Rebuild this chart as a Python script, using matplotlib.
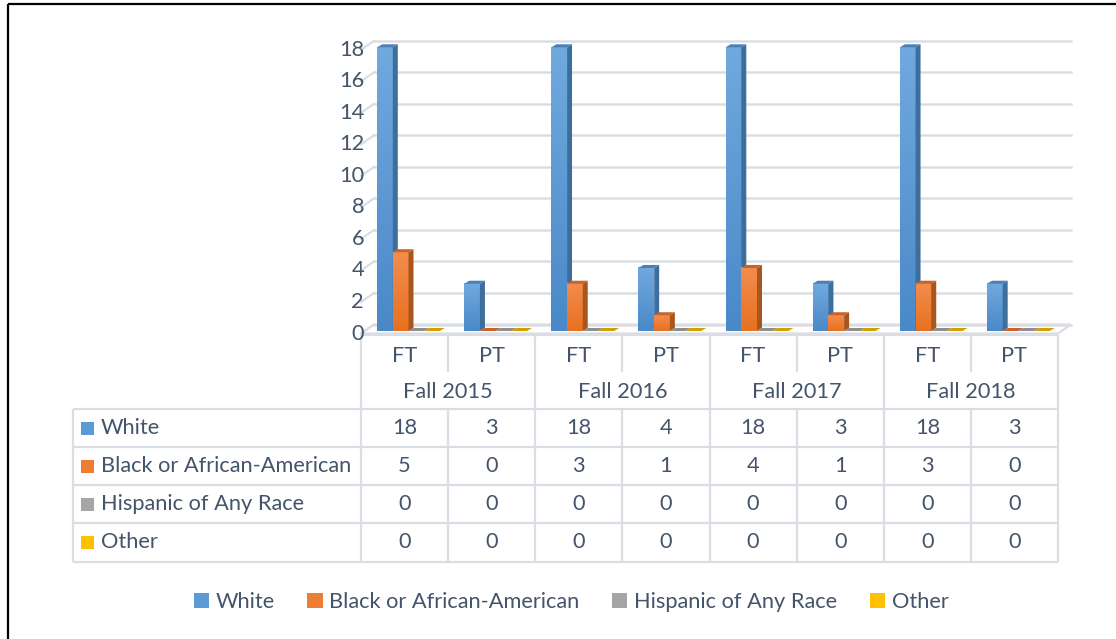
import matplotlib
matplotlib.use("Agg")
import matplotlib.pyplot as plt
import numpy as np
from matplotlib.patches import Polygon, Rectangle, Patch
from matplotlib.colors import LinearSegmentedColormap

# ---------------- data ----------------
years = ["Fall 2015", "Fall 2016", "Fall 2017", "Fall 2018"]
status = ["FT", "PT", "FT", "PT", "FT", "PT", "FT", "PT"]
series_names = ["White", "Black or African-American", "Hispanic of Any Race", "Other"]
white = [18, 3, 18, 4, 18, 3, 18, 3]
black = [5, 0, 3, 1, 4, 1, 3, 0]
hispanic = [0, 0, 0, 0, 0, 0, 0, 0]
other = [0, 0, 0, 0, 0, 0, 0, 0]
yticks = [0, 2, 4, 6, 8, 10, 12, 14, 16, 18]

series = [white, black, hispanic, other]
front_top = ["#70A9DE", "#F28C4E", "#B2B2B2", "#FFCB2E"]
front_bot = ["#4A89C8", "#E8711F", "#999999", "#F0B400"]
side_col = ["#3E6E9C", "#A9561D", "#777777", "#B88A00"]
top_col = ["#4B7FB5", "#C8642A", "#8E8E8E", "#D4A000"]
key_col = ["#5B9BD5", "#ED7D31", "#A5A5A5", "#FFC000"]

TXT = "#44546A"
GRID = "#DADEE4"
FONT = "Lato"
FS = 15.7

W, H = 1116, 639
fig = plt.figure(figsize=(W / 100, H / 100), dpi=100)
plt.rcParams["font.family"] = [FONT, "DejaVu Sans"]

# ---------------- main 3D-like chart ----------------
L, R = 361, 1058
Y0, Y18 = 331, 47.3
ax = fig.add_axes([L / W, 1 - Y0 / H, (R - L) / W, (Y0 - Y18) / H])
ax.set_xlim(0, 8)
ax.set_ylim(0, 18)
ax.axis("off")
pxx = 8 / (R - L)
pxy = 18 / (Y0 - Y18)

bdx, bdy = 13 * pxx, 6.5 * pxy      # back wall offset
fdy = -2.5 * pxy                      # front plane offset
ddx, ddy = 5 * pxx, 3 * pxy           # bar depth

# floor
floor = Polygon([(0, fdy), (8, fdy), (8 + bdx, bdy), (bdx, bdy)], closed=True,
                facecolor="white", edgecolor=GRID, lw=1.6, clip_on=False, zorder=1)
ax.add_patch(floor)
# back wall gridlines + side wall lines
for v in yticks:
    ax.plot([bdx, 8 + bdx], [v + bdy, v + bdy], color=GRID, lw=1.8, clip_on=False, zorder=1)
    ax.plot([0, bdx], [v + fdy, v + bdy], color=GRID, lw=1.6, clip_on=False, zorder=1)
    ax.text(3 * pxx, v + fdy, str(v), ha="right", va="center", fontsize=FS, color=TXT)

bw = 0.18
off = 0.185
x = np.arange(len(status))
for i, vals in enumerate(series):
    cmap = LinearSegmentedColormap.from_list("g%d" % i, [front_bot[i], front_top[i]])
    bars = ax.bar(x + off + i * bw, vals, width=bw, align="edge", color=key_col[i],
                  lw=0, zorder=3 + i, clip_on=False)
    for b, v in zip(bars, vals):
        x0 = b.get_x()
        x1 = x0 + b.get_width()
        h = b.get_height()
        if h > 0:
            grad = np.linspace(0, 1, 64).reshape(-1, 1)
            ax.imshow(grad, cmap=cmap, origin="lower", extent=(x0, x1, 0, h),
                      aspect="auto", zorder=3 + i, clip_on=False, interpolation="bilinear")
            ax.add_patch(Polygon([(x1, 0), (x1, h), (x1 + ddx, h + ddy), (x1 + ddx, ddy)],
                                 closed=True, facecolor=side_col[i], lw=0, zorder=3 + i,
                                 clip_on=False))
        ax.add_patch(Polygon([(x0, h), (x1, h), (x1 + ddx, h + ddy), (x0 + ddx, h + ddy)],
                             closed=True, facecolor=top_col[i], lw=0, zorder=3 + i,
                             clip_on=False))
ax.set_xlim(0, 8)
ax.set_ylim(0, 18)

# ---------------- data table ----------------
tax = fig.add_axes([0, 0, 1, 1])
tax.set_xlim(0, W)
tax.set_ylim(H, 0)
tax.axis("off")
tax.set_zorder(-1)
cw = (R - L) / 8
colx = [L + k * cw for k in range(9)]
TL = 73
ytop, ysub, yr = 335, 372, [409, 447, 485, 523, 562]
lk = dict(color=GRID, lw=1.6, solid_capstyle="butt")
tax.plot([L, R], [ytop, ytop], **lk)
for k in range(9):
    if k % 2 == 0:
        tax.plot([colx[k], colx[k]], [ytop, yr[-1]], **lk)
    else:
        tax.plot([colx[k], colx[k]], [ytop, ysub], **lk)
        tax.plot([colx[k], colx[k]], [yr[0], yr[-1]], **lk)
tax.plot([TL, TL], [yr[0], yr[-1]], **lk)
for yy in yr:
    tax.plot([TL, R], [yy, yy], **lk)

for k, s in enumerate(status):
    tax.text(colx[k] + cw / 2, 356, s, ha="center", va="center", fontsize=FS, color=TXT)
for k, yname in enumerate(years):
    tax.text(colx[2 * k] + cw, 392, yname, ha="center", va="center", fontsize=FS, color=TXT)
for r, (name, vals) in enumerate(zip(series_names, series)):
    yc = (yr[r] + yr[r + 1]) / 2
    tax.add_patch(Rectangle((81, yc - 6.5), 13, 13, facecolor=key_col[r], lw=0))
    tax.text(101, yc, name, ha="left", va="center", fontsize=FS, color=TXT)
    for k, v in enumerate(vals):
        tax.text(colx[k] + cw / 2, yc, str(v), ha="center", va="center", fontsize=FS, color=TXT)

# outer border
tax.add_patch(Rectangle((8, 4), W + 20, H + 20, facecolor="none", edgecolor="black", lw=1.6))

# ---------------- legend ----------------
handles = [Patch(facecolor=c, edgecolor="none") for c in key_col]
fig.legend(handles, series_names, ncol=4, loc="center", bbox_to_anchor=(571 / W, 1 - 602 / H),
           frameon=False, fontsize=FS, labelcolor=TXT, handlelength=0.7, handleheight=0.7,
           handletextpad=0.3, columnspacing=1.5)

fig.savefig("out.png", dpi=100)
